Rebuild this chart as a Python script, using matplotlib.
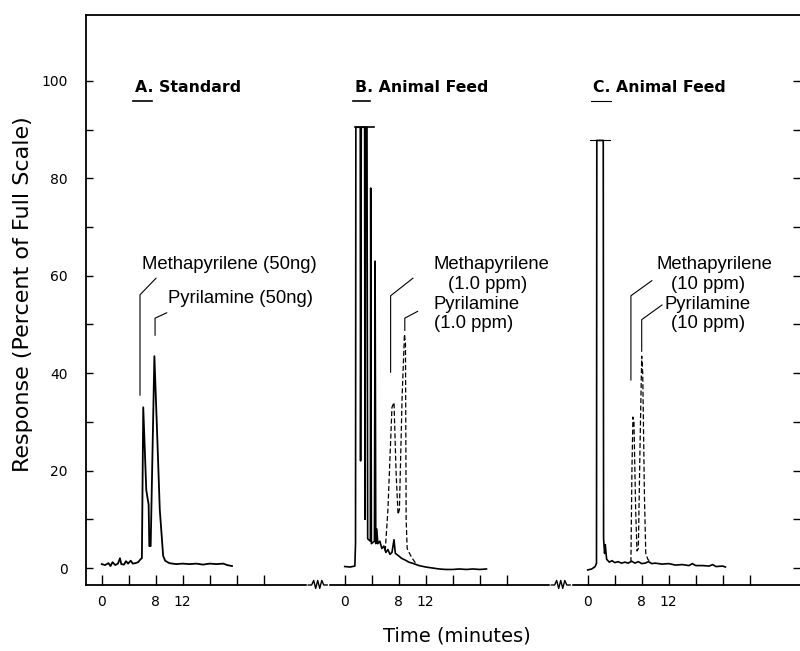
import matplotlib
matplotlib.use("Agg")
import matplotlib.pyplot as plt
from matplotlib.transforms import blended_transform_factory

# ---------------- data (minutes, percent of full scale) ----------------
panel_titles = ["A. Standard", "B. Animal Feed", "C. Animal Feed"]

A_time = [0.0, 0.5, 1.0, 1.3, 1.6, 2.0, 2.4, 2.7, 2.9, 3.3, 3.6, 3.9, 4.3, 4.6, 5.0, 5.4,
          5.75, 5.95, 6.15, 6.6, 6.95, 7.05, 7.25, 7.8, 8.2, 8.6, 9.1, 9.4, 10.0, 11.0,
          12.0, 13.0, 14.0, 15.0, 16.0, 17.0, 18.0, 18.6, 19.3]
A_resp = [0.8, 0.6, 1.0, 0.4, 1.2, 0.6, 0.9, 2.0, 0.8, 0.7, 1.4, 0.9, 1.5, 0.9, 1.0, 1.2,
          1.8, 2.0, 33.0, 16.0, 13.0, 4.5, 4.5, 43.5, 28.0, 12.0, 2.5, 1.5, 1.0, 0.8,
          0.9, 0.8, 0.9, 0.7, 0.9, 0.8, 0.9, 0.6, 0.4]

B_time = [0.0, 0.8, 1.5, 1.6, 1.65, 2.3, 2.35, 2.45, 2.95, 3.0, 3.1, 3.3, 3.4, 3.8, 3.85,
          3.95, 4.4, 4.5, 4.6, 4.75, 4.9, 5.2, 5.5, 5.8, 6.1, 6.4, 6.7, 7.0, 7.3, 7.5,
          7.9, 8.4, 9.0, 9.5, 10.0, 11.0, 12.0, 13.0, 14.0, 15.0, 16.0, 17.0, 18.0,
          19.0, 20.0, 21.0]
B_resp = [0.3, 0.2, 0.4, 5.0, 90.5, 90.5, 22.0, 90.5, 90.5, 10.0, 90.5, 90.5, 6.0, 5.5, 78.0,
          5.0, 5.5, 63.0, 5.0, 8.0, 5.0, 5.5, 4.0, 4.5, 3.2, 3.8, 2.8, 3.2, 5.8, 3.0,
          2.6, 2.0, 1.6, 1.2, 1.0, 0.5, 0.2, 0.0, -0.2, -0.3, -0.3, -0.2, -0.3,
          -0.2, -0.3, -0.2]
B_dash_time = [6.0, 6.4, 7.0, 7.3, 7.6, 7.9, 8.1, 8.5, 8.85, 9.0, 9.1, 9.25, 9.6, 10.0, 10.5]
B_dash_resp = [3.5, 12.0, 33.0, 34.0, 20.0, 11.0, 12.0, 35.0, 48.0, 46.0, 10.0, 4.0, 3.0, 2.0, 1.0]
B_clip_time = [1.5, 4.3]

C_time = [0.0, 0.6, 1.1, 1.3, 1.35, 2.3, 2.35, 2.5, 2.6, 2.8, 3.2, 3.6, 4.0, 4.5, 5.0,
          5.5, 6.0, 6.5, 7.0, 7.5, 8.0, 8.5, 9.0, 9.5, 10.0, 11.0, 12.0, 13.0, 14.0,
          15.0, 15.5, 16.0, 17.0, 18.0, 18.5, 19.0, 20.0, 20.4]
C_resp = [-0.4, -0.2, 0.3, 1.0, 87.8, 87.8, 6.0, 3.0, 4.8, 1.8, 1.2, 1.5, 1.1, 1.3, 1.0,
          1.2, 1.0, 1.4, 1.0, 1.3, 0.9, 1.0, 1.3, 0.9, 1.0, 0.8, 0.9, 0.6, 0.7,
          0.5, 0.9, 0.5, 0.5, 0.4, 0.7, 0.3, 0.4, 0.2]
C_dash_time = [6.4, 6.55, 6.7, 6.85, 7.1, 7.3, 7.5, 7.75, 8.0, 8.15, 8.4, 8.6, 8.9, 9.4]
C_dash_resp = [1.2, 20.0, 31.0, 30.0, 12.0, 3.5, 4.0, 25.0, 43.5, 40.0, 15.0, 3.0, 1.8, 1.1]
C_clip_time = [0.35, 3.3]

full_scale = [90.5, 87.8]  # pen limit levels for B and C

time_ticks = [0, 4, 8, 12, 16, 20, 24]
time_labels = ["0", "", "8", "12", "", "", ""]
resp_ticks = list(range(0, 101, 10))
resp_labels = ["0", "", "20", "", "40", "", "60", "", "80", "", "100"]

# annotation text lines per panel
ann_lines = [
    ["Methapyrilene (50ng)", "Pyrilamine (50ng)"],
    ["Methapyrilene", "(1.0 ppm)", "Pyrilamine", "(1.0 ppm)"],
    ["Methapyrilene", "(10 ppm)", "Pyrilamine", "(10 ppm)"],
]

# ---------------- layout ----------------
offsets = [0.0, 36.0, 72.0]
W, H = 800, 651
fig = plt.figure(figsize=(W / 100, H / 100), dpi=100)
ax = fig.add_axes([86 / W, 1 - 585 / H, 714 / W, 570 / H])
ax.set_xlim(-2.33, 103.45)
ax.set_ylim(-3.49, 113.55)

lw = 1.2
ax.plot([t + offsets[0] for t in A_time], A_resp, color="black", lw=1.3)
ax.plot([t + offsets[1] for t in B_time], B_resp, color="black", lw=lw)
ax.plot([t + offsets[1] for t in B_dash_time], B_dash_resp, color="black", lw=0.9,
        linestyle=(0, (4, 2)))
ax.plot([t + offsets[1] for t in B_clip_time], [full_scale[0]] * 2, color="black", lw=lw)
ax.plot([t + offsets[2] for t in C_time], C_resp, color="black", lw=lw)
ax.plot([t + offsets[2] for t in C_dash_time], C_dash_resp, color="black", lw=0.9,
        linestyle=(0, (4, 2)))
ax.plot([t + offsets[2] for t in C_clip_time], [full_scale[1]] * 2, color="black", lw=0.8)

# titles with underline under the letter
title_x = [5.0, 1.5, 0.8]
ul_len = [2.7, 2.5, 3.0]
for i, ttl in enumerate(panel_titles):
    x0 = title_x[i] + offsets[i]
    ax.text(x0, 98.6, ttl, fontsize=11.3, fontweight="bold", ha="left", va="center",
            family="DejaVu Sans")
    ax.plot([x0 - 0.3, x0 - 0.3 + ul_len[i]], [95.9, 95.9], color="black",
            lw=1.2 if i < 2 else 0.8)

# leader lines: (vertical x, y_bottom, y_top, diag end x, diag end y)
leaders = [
    [(5.67, 35.5, 56.1, 8.04, 59.5), (7.9, 47.8, 51.3, 9.63, 52.4)],
    [(6.8, 40.2, 55.9, 10.1, 59.5), (8.9, 48.8, 51.3, 10.8, 52.7)],
    [(6.4, 38.6, 55.9, 9.5, 59.0), (8.0, 44.5, 51.0, 11.0, 54.0)],
]
for i in range(3):
    o = offsets[i]
    for (vx, yb, yt, dx, dy) in leaders[i]:
        ax.plot([vx + o, vx + o, dx + o], [yb, yt, dy], color="black", lw=0.8)

# text placement: (x rel panel, y, ha)
ann_pos = [
    [(5.96, 62.4, "left"), (9.82, 55.4, "left")],
    [(13.2, 62.4, "left"), (15.3, 58.3, "left"), (13.2, 54.2, "left"), (13.2, 50.3, "left")],
    [(18.7, 62.4, "center"), (17.8, 58.3, "center"), (17.8, 54.2, "center"), (17.8, 50.3, "center")],
]
for i in range(3):
    for txt, (x, y, ha) in zip(ann_lines[i], ann_pos[i]):
        ax.text(x + offsets[i], y, txt, fontsize=13.3, ha=ha, va="center",
                family="Liberation Sans")

# ticks
xt, xl = [], []
for o in offsets:
    xt += [t + o for t in time_ticks]
    xl += time_labels
ax.set_xticks(xt)
ax.set_xticklabels(xl, fontsize=10)
ax.set_yticks(resp_ticks)
ax.set_yticklabels(resp_labels, fontsize=10)
ax.tick_params(axis="x", direction="in", length=7, width=1, pad=7, top=False)
ax.tick_params(axis="y", direction="in", length=5, width=1, pad=13, right=True)

for s in ["left", "top", "bottom"]:
    ax.spines[s].set_linewidth(1.3)
ax.spines["right"].set_visible(False)

# axis breaks
tr = blended_transform_factory(ax.transData, ax.transAxes)
for bx in [32.0, 68.0]:
    ax.plot([bx - 1.4, bx + 1.4], [0, 0], color="white", lw=2.5, transform=tr,
            clip_on=False, zorder=5)
    zx = [bx - 1.4, bx - 0.9, bx - 0.6, bx - 0.3, bx, bx + 0.3, bx + 0.6, bx + 0.9, bx + 1.4]
    zy = [0, 0, 0.008, -0.006, 0.008, -0.006, 0.008, 0, 0]
    ax.plot(zx, zy, color="black", lw=1.0, transform=tr, clip_on=False, zorder=6)

ax.set_xlabel("Time (minutes)", fontsize=14, va="center")
ax.xaxis.set_label_coords(0.52, -0.0895)
ax.set_ylabel("Response (Percent of Full Scale)", fontsize=16, va="center")
ax.yaxis.set_label_coords(-0.0885, 0.511)

fig.savefig("out.png", dpi=100)
